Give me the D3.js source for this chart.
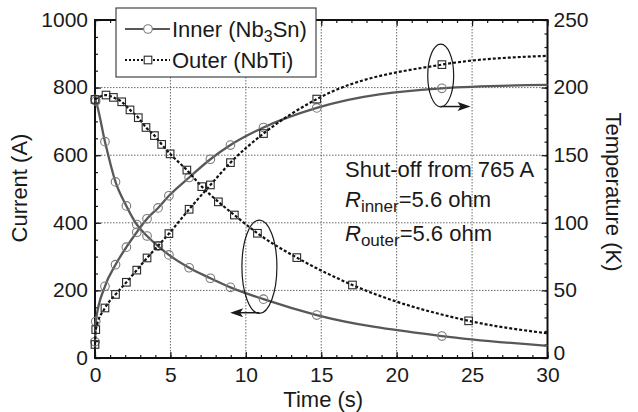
<!DOCTYPE html>
<html>
<head>
<meta charset="utf-8">
<script src="https://cdn.jsdelivr.net/npm/d3@7"></script>
<style>
  body { margin: 0; background: #fff; }
  svg text { font-family: "Liberation Sans", Arial, Helvetica, sans-serif; fill: #1a1a1a; }
</style>
</head>
<body>
<svg id="chart" width="638" height="412"></svg>
<script>
// Quench shut-off from 765 A: coil currents (left axis) and hot-spot temperatures (right axis)

// Inner coil (Nb3Sn): sample times (s), current (A), temperature (K)
const innerTime    = [0, 0.05, 0.66, 1.36, 2.08, 2.77, 3.45, 4.18, 4.9, 6.24, 7.65, 8.98, 11.17, 14.7, 23.0, 30];
const innerCurrent = [765, 760, 640, 521, 450, 395, 361, 331, 305, 267, 236, 209, 174, 127, 65, 36];
const innerTemp    = [12, 27, 53, 69, 82, 93, 103, 111, 120, 133.5, 147, 157.5, 170.5, 185, 199.5, 202];

// Outer coil (NbTi): temperature shares the inner sample times, current has its own
const outerTempTime    = [0, 0.05, 0.66, 1.36, 2.08, 2.77, 3.45, 4.18, 4.9, 6.24, 7.65, 8.98, 11.17, 14.7, 23.0, 30];
const outerTemp        = [10, 21, 37, 47, 56, 65, 74, 83, 92, 110, 128, 144.5, 166, 191.5, 217, 223.5];
const outerCurrentTime = [0, 0.73, 1.22, 1.77, 2.32, 2.87, 3.38, 3.94, 4.42, 4.98, 6.09, 7.08, 8.18, 9.24, 10.77, 13.38, 17.07, 24.77, 30];
const outerCurrent     = [765, 778, 771, 758, 734, 711, 682, 658, 632, 604, 556, 507, 462, 423, 369, 297, 216, 110, 73];

// Axis ticks
const timeTicks    = [0, 5, 10, 15, 20, 25, 30];
const currentTicks = [0, 200, 400, 600, 800, 1000];
const tempTicks    = [0, 50, 100, 150, 200, 250];

const legendLabels = ["Inner (Nb", "3", "Sn)", "Outer (NbTi)"];
const noteLines    = ["Shut-off from 765 A", "=5.6 ohm"];

const svg = d3.select("#chart");
const W = 638, H = 412;
const m = { left: 95, right: W - 547.5, top: 20, bottom: H - 358 };
const pw = W - m.left - m.right, ph = H - m.top - m.bottom;

const x  = d3.scaleLinear().domain([0, 30]).range([m.left, m.left + pw]);
const yI = d3.scaleLinear().domain([0, 1000]).range([m.top + ph, m.top]);
const yT = d3.scaleLinear().domain([0, 250]).range([m.top + ph, m.top]);

const FS = 22;      // titles, legend, note
const TICK_FS = 21; // tick labels

// grid
const grid = svg.append("g").attr("stroke", "#6a6a6a").attr("stroke-width", 1)
  .attr("stroke-dasharray", "1.5,1.5");
timeTicks.slice(1, -1).forEach(t => grid.append("line")
  .attr("x1", x(t)).attr("x2", x(t)).attr("y1", m.top).attr("y2", m.top + ph));
currentTicks.slice(1, -1).forEach(v => grid.append("line")
  .attr("x1", m.left).attr("x2", m.left + pw).attr("y1", yI(v)).attr("y2", yI(v)));

// axes with inward ticks
function axisGroup(axis, tx, ty) {
  const g = svg.append("g").attr("transform", `translate(${tx},${ty})`).call(axis);
  g.select(".domain").remove();
  g.selectAll("line").attr("stroke", "#1a1a1a").attr("stroke-width", 1.2);
  g.selectAll("text").attr("font-size", TICK_FS).attr("fill", "#1a1a1a")
    .style("font-family", '"Liberation Sans", Arial, sans-serif');
  return g;
}
const minorT = d3.range(0, 31, 1);
const minorI = d3.range(0, 1001, 50);
const minorK = d3.range(0, 251, 10);

axisGroup(d3.axisBottom(x).tickValues(minorT).tickSize(-3).tickFormat(""), 0, m.top + ph);
axisGroup(d3.axisBottom(x).tickValues(timeTicks).tickSize(-6).tickPadding(9.5).tickFormat(d3.format("d")), 0, m.top + ph);
axisGroup(d3.axisTop(x).tickValues(minorT).tickSize(-3).tickFormat(""), 0, m.top);
axisGroup(d3.axisTop(x).tickValues(timeTicks).tickSize(-6).tickFormat(""), 0, m.top);
axisGroup(d3.axisLeft(yI).tickValues(minorI).tickSize(-3).tickFormat(""), m.left, 0);
axisGroup(d3.axisLeft(yI).tickValues(currentTicks).tickSize(-6).tickPadding(7).tickFormat(d3.format("d")), m.left, 0)
  .selectAll("text").attr("dy", "0.3em");
axisGroup(d3.axisRight(yT).tickValues(minorK).tickSize(-3).tickFormat(""), m.left + pw, 0);
const rightAxis = axisGroup(d3.axisRight(yT).tickValues(tempTicks).tickSize(-6).tickPadding(6).tickFormat(d3.format("d")), m.left + pw, 0);
rightAxis.selectAll("text").attr("dy", "0.3em");
// lift the corner zero so it clears the "30" below it
rightAxis.selectAll("text").filter(d => d === 0).attr("dy", 1);

// frame
svg.append("rect").attr("x", m.left).attr("y", m.top).attr("width", pw).attr("height", ph)
  .attr("fill", "none").attr("stroke", "#111").attr("stroke-width", 2);

// series
const series = [
  { t: innerTime,        v: innerCurrent, y: yI, kind: "inner" },
  { t: innerTime,        v: innerTemp,    y: yT, kind: "inner" },
  { t: outerCurrentTime, v: outerCurrent, y: yI, kind: "outer" },
  { t: outerTempTime,    v: outerTemp,    y: yT, kind: "outer" }
];
const styles = {
  inner: { stroke: "#585858", width: 2.3, dash: null },
  outer: { stroke: "#111", width: 2.2, dash: "3,2" }
};

series.forEach(s => {
  const pts = s.t.map((t, i) => [t, s.v[i]]);
  const st = styles[s.kind];
  const line = d3.line().x(d => x(d[0])).y(d => s.y(d[1])).curve(d3.curveMonotoneX);
  svg.append("path").attr("d", line(pts)).attr("fill", "none")
    .attr("stroke", st.stroke).attr("stroke-width", st.width)
    .attr("stroke-dasharray", st.dash);
  // markers on every sample except the closing end point
  const marks = pts.slice(0, -1);
  if (s.kind === "inner") {
    svg.append("g").selectAll("circle").data(marks).join("circle")
      .attr("cx", d => x(d[0])).attr("cy", d => s.y(d[1])).attr("r", 4.3)
      .attr("fill", "none").attr("stroke", "#7a7a7a").attr("stroke-width", 1.1);
  } else {
    svg.append("g").selectAll("rect").data(marks).join("rect")
      .attr("x", d => x(d[0]) - 3.8).attr("y", d => s.y(d[1]) - 3.8)
      .attr("width", 7.6).attr("height", 7.6)
      .attr("fill", "none").attr("stroke", "#2a2a2a").attr("stroke-width", 1.1);
  }
});

// ellipse call-outs with arrows pointing to the relevant axis
function callout(cx, cy, rx, ry, tipX, arrowY) {
  const g = svg.append("g");
  g.append("ellipse").attr("cx", cx).attr("cy", cy).attr("rx", rx).attr("ry", ry)
    .attr("fill", "none").attr("stroke", "#1a1a1a").attr("stroke-width", 1.2);
  const dir = Math.sign(tipX - cx);
  g.append("line").attr("x1", cx).attr("y1", arrowY).attr("x2", tipX - dir * 6).attr("y2", arrowY)
    .attr("stroke", "#1a1a1a").attr("stroke-width", 1.5);
  const bx = tipX - dir * 13;
  g.append("path")
    .attr("d", `M${tipX},${arrowY} L${bx},${arrowY - 4.5} L${bx + dir * 3},${arrowY} L${bx},${arrowY + 4.5} Z`)
    .attr("fill", "#1a1a1a");
}
// current call-out (arrow to the left axis)
callout(x(10.9), yI(270), x(1.16) - x(0), yI(0) - yI(138), x(8.96), yI(134));
// temperature call-out (arrow to the right axis)
callout(x(22.92), yT(209), x(0.86) - x(0), yT(0) - yT(23.2), x(24.9), yT(186));

// axis titles
svg.append("text").attr("transform", `translate(27,${m.top + ph / 2 - 1}) rotate(-90)`)
  .attr("text-anchor", "middle").attr("font-size", FS).text("Current (A)");
svg.append("text").attr("transform", `translate(606,${m.top + ph / 2 + 3}) rotate(90)`)
  .attr("text-anchor", "middle").attr("font-size", FS).text("Temperature (K)");
svg.append("text").attr("x", x(15) + 2).attr("y", 406.5)
  .attr("text-anchor", "middle").attr("font-size", FS).text("Time (s)");

// conditions note
const note = svg.append("g").attr("font-size", FS);
note.append("text").attr("x", 345).attr("y", 177).text(noteLines[0]);
[["inner", 207], ["outer", 241]].forEach(([sub, by]) => {
  const t = note.append("text").attr("x", 345).attr("y", by);
  t.append("tspan").attr("font-style", "italic").text("R");
  t.append("tspan").attr("font-size", 17).attr("dy", 5).text(sub);
  t.append("tspan").attr("dy", -5).text(noteLines[1]);
});

// legend
const lg = svg.append("g");
lg.append("rect").attr("x", 116).attr("y", 8).attr("width", 200).attr("height", 69)
  .attr("fill", "#fff").attr("stroke", "#333").attr("stroke-width", 1.1);
lg.append("line").attr("x1", 125).attr("x2", 170).attr("y1", 29).attr("y2", 29)
  .attr("stroke", styles.inner.stroke).attr("stroke-width", 2);
lg.append("circle").attr("cx", 148).attr("cy", 29).attr("r", 4.3)
  .attr("fill", "#fff").attr("stroke", "#7a7a7a").attr("stroke-width", 1.1);
lg.append("line").attr("x1", 125).attr("x2", 170).attr("y1", 60).attr("y2", 60)
  .attr("stroke", styles.outer.stroke).attr("stroke-width", 1.8).attr("stroke-dasharray", "2,2");
lg.append("rect").attr("x", 148 - 3.8).attr("y", 60 - 3.8).attr("width", 7.6).attr("height", 7.6)
  .attr("fill", "#fff").attr("stroke", "#2a2a2a").attr("stroke-width", 1.1);
const l1 = lg.append("text").attr("x", 172).attr("y", 37).attr("font-size", FS);
l1.append("tspan").text(legendLabels[0]);
l1.append("tspan").attr("font-size", 16).attr("dy", 5).text(legendLabels[1]);
l1.append("tspan").attr("dy", -5).text(legendLabels[2]);
lg.append("text").attr("x", 172).attr("y", 68).attr("font-size", FS).text(legendLabels[3]);
</script>
</body>
</html>
